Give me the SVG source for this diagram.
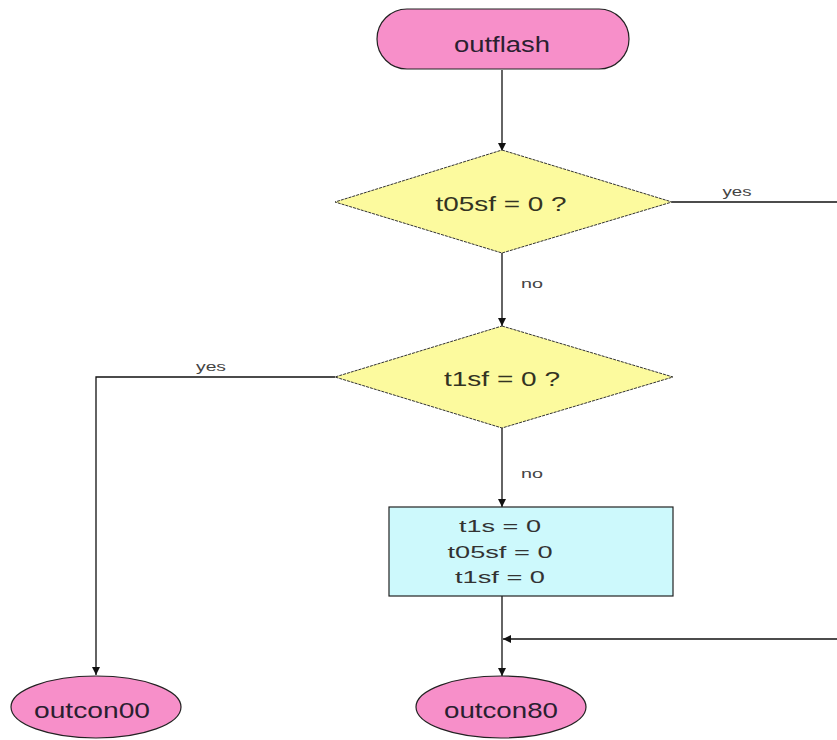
<svg xmlns="http://www.w3.org/2000/svg" width="837" height="740" viewBox="0 0 837 740">
  <style>
    .term { fill: #f78fc9; stroke: #222; stroke-width: 1.2; }
    .dec { fill: #fcfa9e; stroke: #333; stroke-width: 1; stroke-dasharray: 3 1; }
    .proc { fill: #cdf9fc; stroke: #222; stroke-width: 1.2; }
    .txt { font-family: "Liberation Sans", Arial, sans-serif; fill: #2a2030; text-anchor: middle; }
    .big { font-size: 22px; }
    .mid { font-size: 21px; fill: #333322; }
    .sml { font-size: 17px; fill: #333; }
    .lbl { font-family: "Liberation Sans", Arial, sans-serif; font-size: 12px; fill: #444; text-anchor: middle; }
    .edge { fill: none; stroke: #111; stroke-width: 1.3; }
  </style>
  <defs>
    <marker id="arr" viewBox="0 0 10 10" refX="10" refY="5" markerWidth="8" markerHeight="8" markerUnits="userSpaceOnUse" orient="auto">
      <path d="M0,0 L10,5 L0,10 z" fill="#111"/>
    </marker>
  </defs>
  <rect width="837" height="740" fill="#fff"/>

  <!-- flow lines and branch labels -->
  <g id="connectors">
    <path class="edge" d="M502,70 V151" marker-end="url(#arr)"/>
    <path class="edge" d="M672,202 H837"/>
    <text class="lbl" x="737" y="196" textLength="29" lengthAdjust="spacingAndGlyphs">yes</text>
    <path class="edge" d="M502,253 V326" marker-end="url(#arr)"/>
    <text class="lbl" x="532" y="288" textLength="22" lengthAdjust="spacingAndGlyphs">no</text>
    <path class="edge" d="M335,377 H96 V675" marker-end="url(#arr)"/>
    <text class="lbl" x="211" y="371" textLength="30" lengthAdjust="spacingAndGlyphs">yes</text>
    <path class="edge" d="M502,428 V507" marker-end="url(#arr)"/>
    <text class="lbl" x="532" y="478" textLength="22" lengthAdjust="spacingAndGlyphs">no</text>
    <path class="edge" d="M502,596 V676" marker-end="url(#arr)"/>
    <path class="edge" d="M837,639 H503" marker-end="url(#arr)"/>
  </g>

  <g id="outflash">
    <rect class="term" x="377" y="9" width="252" height="60" rx="30" ry="30"/>
    <text class="txt big" x="502" y="52" textLength="96" lengthAdjust="spacingAndGlyphs">outflash</text>
  </g>

  <g id="t05sf-check">
    <polygon class="dec" points="502,150 672,202 502,253 335,202"/>
    <text class="txt mid" x="501" y="211" textLength="131" lengthAdjust="spacingAndGlyphs">t05sf = 0 ?</text>
  </g>

  <g id="t1sf-check">
    <polygon class="dec" points="502,326 673,377 502,428 335,377"/>
    <text class="txt mid" x="502" y="386" textLength="116" lengthAdjust="spacingAndGlyphs">t1sf = 0 ?</text>
  </g>

  <g id="reset">
    <rect class="proc" x="389" y="507" width="284" height="89"/>
    <text class="txt sml" x="500" y="532" textLength="82" lengthAdjust="spacingAndGlyphs">t1s = 0</text>
    <text class="txt sml" x="500" y="558" textLength="105" lengthAdjust="spacingAndGlyphs">t05sf = 0</text>
    <text class="txt sml" x="500" y="583" textLength="90" lengthAdjust="spacingAndGlyphs">t1sf = 0</text>
  </g>

  <g id="outcon00">
    <ellipse class="term" cx="96" cy="707" rx="85" ry="31"/>
    <text class="txt big" x="92" y="718" textLength="116" lengthAdjust="spacingAndGlyphs">outcon00</text>
  </g>

  <g id="outcon80">
    <ellipse class="term" cx="501" cy="707" rx="85" ry="31"/>
    <text class="txt big" x="501" y="718" textLength="114" lengthAdjust="spacingAndGlyphs">outcon80</text>
  </g>
</svg>
